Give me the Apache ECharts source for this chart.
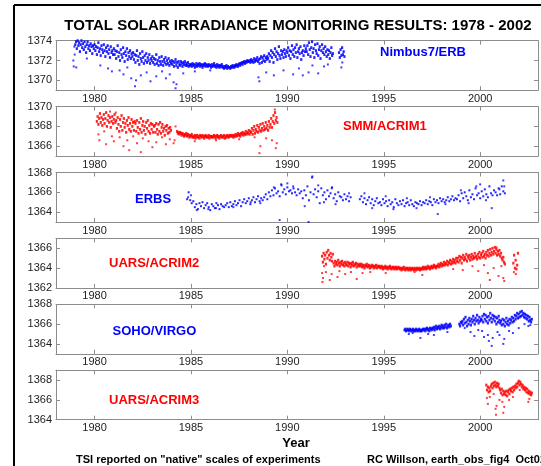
<!DOCTYPE html>
<html>
<head>
<meta charset="utf-8">
<script src="https://cdn.jsdelivr.net/npm/echarts@6/dist/echarts.min.js"></script>
<style>
html,body{margin:0;padding:0;background:#fff;}
#chart{width:541px;height:466px;}
</style>
</head>
<body>
<div id="chart"></div>
<script>
// ---------------- DATA ----------------
const xTicks = [1980, 1985, 1990, 1995, 2000];
const instrumentNames = ['Nimbus7/ERB', 'SMM/ACRIM1', 'ERBS', 'UARS/ACRIM2', 'SOHO/VIRGO', 'UARS/ACRIM3'];
const yRanges = [[1369, 1374], [1365, 1370], [1363, 1368], [1362, 1367], [1363, 1368], [1364, 1369]];
const yTickLabels = [[1370, 1372, 1374], [1366, 1368, 1370], [1364, 1366, 1368], [1362, 1364, 1366], [1364, 1366, 1368], [1364, 1366, 1368]];

// dense records: first year and sampling step (years), then values
const nimbusStart = 1979.0, nimbusStep = 0.04;
const nimbusValues = [
1373.6,1373.9,1373.2,1374.0,1373.5,1373.8,1372.9,1373.6,1374.0,1373.3,1373.7,1373.1,1373.9,1373.4,1372.8,1373.6,1373.9,1373.2,1373.5,1373.0,1373.7,1373.4,1372.7,1373.5,1373.2,
1373.6,1373.0,1373.4,1372.6,1373.3,1373.8,1372.9,1373.2,1372.5,1373.5,1373.1,1372.8,1373.6,1373.0,1372.4,1373.3,1372.9,1373.5,1372.7,1373.1,1372.3,1373.4,1372.8,1373.0,1372.6,
1373.2,1372.6,1373.0,1372.2,1372.9,1373.5,1372.4,1372.8,1372.0,1373.1,1372.6,1372.3,1373.3,1372.7,1371.9,1372.9,1372.5,1373.2,1372.1,1372.8,1372.4,1373.0,1372.2,1372.7,1372.4,
1372.8,1372.1,1372.6,1371.8,1372.5,1373.0,1372.0,1372.4,1371.6,1372.7,1372.2,1371.9,1372.9,1372.3,1371.7,1372.5,1372.0,1372.7,1371.8,1372.3,1372.0,1372.6,1371.7,1372.2,1372.0,
1372.4,1371.8,1372.2,1371.6,1372.1,1372.6,1371.7,1372.0,1371.5,1372.3,1371.9,1371.6,1372.4,1371.9,1371.5,1372.1,1371.8,1372.3,1371.6,1372.0,1371.7,1372.2,1371.5,1371.9,1371.7,
1372.0,1371.6,1371.9,1371.4,1371.8,1372.1,1371.5,1371.8,1371.3,1371.9,1371.6,1371.5,1371.9,1371.7,1371.4,1371.8,1371.6,1371.9,1371.5,1371.7,1371.5,1371.8,1371.4,1371.6,1371.5,
1371.6,1371.4,1371.7,1371.5,1371.6,1371.3,1371.5,1371.7,1371.4,1371.6,1371.5,1371.7,1371.4,1371.6,1371.5,1371.3,1371.6,1371.5,1371.7,1371.4,1371.6,1371.5,1371.4,1371.6,1371.5,
1371.5,1371.3,1371.6,1371.4,1371.5,1371.7,1371.4,1371.5,1371.3,1371.6,1371.4,1371.5,1371.3,1371.5,1371.4,1371.6,1371.3,1371.4,1371.2,1371.4,1371.3,1371.5,1371.2,1371.4,1371.3,
1371.3,1371.2,1371.4,1371.3,1371.5,1371.4,1371.3,1371.5,1371.4,1371.6,1371.5,1371.4,1371.6,1371.7,1371.5,1371.7,1371.8,1371.6,1371.8,1371.9,1371.7,1371.9,1371.8,1372.0,1371.9,
1371.9,1372.0,1371.8,1372.1,1371.9,1372.0,1371.8,1372.2,1371.9,1372.1,1372.0,1372.3,1371.9,1372.1,1371.7,1372.2,1372.4,1371.8,1372.3,1372.0,1372.5,1371.9,1372.3,1372.1,1372.4,
1372.2,1372.7,1371.9,1372.5,1373.0,1372.3,1372.8,1371.8,1372.6,1373.2,1372.4,1372.9,1372.1,1372.7,1373.4,1372.5,1372.2,1373.0,1372.6,1372.9,1372.3,1373.1,1372.7,1372.4,1373.0,
1372.8,1373.3,1372.5,1373.0,1372.2,1372.9,1373.5,1372.6,1373.1,1372.4,1373.3,1372.8,1373.6,1372.3,1372.9,1373.2,1372.7,1373.4,1372.1,1372.8,1373.0,1372.5,1373.5,1372.9,1373.2,
1372.9,1373.5,1372.6,1373.8,1373.1,1372.4,1373.3,1373.9,1372.8,1373.2,1372.3,1373.6,1373.0,1372.7,1373.7,1372.5,1373.1,1373.4,1372.2,1373.0,1373.6,1372.8,1373.2,1372.6,1373.4,
1372.9,1372.4,1373.1,1372.6,1373.0,1372.2,1372.8,1373.3,1372.5,1372.7,null,null,null,null,null,null,null,1372.8,1372.3,1373.1,1372.5,1373.3,1372.6,1372.9,1372.4
];
const nimbusScatter = [
[1978.9,1372.0],[1978.92,1371.4],[1978.95,1373.4],[1978.97,1372.6],[1979.05,1371.3],[1979.6,1372.2],[1980.3,1371.5],[1980.7,1371.2],
[1980.9,1370.9],[1981.3,1371.0],[1981.5,1370.6],[1981.7,1371.3],[1981.9,1370.2],[1982.1,1369.4],[1982.15,1370.0],[1982.4,1370.5],
[1982.7,1370.8],[1982.9,1369.9],[1983.2,1370.4],[1983.5,1370.9],[1983.7,1370.2],[1983.9,1370.6],[1984.1,1369.8],[1984.2,1369.2],
[1984.25,1369.6],[1984.6,1370.7],[1985.2,1370.9],[1986.0,1371.0],[1988.5,1370.3],[1988.55,1369.9],[1988.9,1370.8],[1989.3,1370.5],
[1989.8,1371.0],[1990.3,1370.6],[1990.6,1371.2],[1990.8,1370.5],[1991.1,1370.8],[1991.3,1371.5],[1991.6,1370.7],[1991.9,1371.4],
[1992.1,1371.6],[1992.8,1371.3],[1992.85,1371.8]
];

const acrim1Start = 1980.12, acrim1Step = 0.04;
const acrim1Values = [
1368.5,1369.0,1368.2,1368.8,1369.3,1368.4,1368.9,1368.1,1368.7,1369.2,1368.3,1368.8,1369.4,1368.0,1368.6,1369.1,1368.4,1368.9,1367.9,1368.5,1369.0,1368.3,1368.7,1369.2,1368.4,
1368.6,1367.8,1368.9,1368.2,1367.5,1368.7,1368.0,1369.1,1367.6,1368.4,1368.8,1367.9,1368.3,1367.4,1368.6,1368.1,1368.9,1367.7,1368.3,1367.5,1368.7,1368.0,1368.4,1367.6,1368.5,
1368.3,1367.5,1368.6,1367.9,1367.3,1368.4,1367.7,1368.8,1367.4,1368.1,1368.5,1367.6,1368.0,1367.2,1368.4,1367.8,1368.6,1367.5,1368.1,1367.3,1368.3,1367.7,1368.2,1367.4,1368.0,
1368.1,1367.4,1368.3,1367.7,1367.2,1368.2,1367.5,1368.4,1367.3,1367.9,1368.2,1367.5,1367.8,1367.1,1368.0,1367.6,1368.1,1367.3,1367.8,1367.4,1367.9,1367.6,null,null,null,
null,null,null,null,1367.5,1367.3,1367.4,1367.2,1367.4,1367.3,1367.1,1367.3,1367.2,1367.0,1367.2,1367.1,1367.3,1367.0,1367.2,1367.1,1366.9,1367.1,1367.0,1367.2,1366.9,
1367.0,1366.9,1367.1,1366.8,1367.0,1367.1,1366.9,1367.0,1366.8,1367.1,1367.0,1366.9,1367.1,1367.0,1366.8,1367.0,1367.1,1366.9,1367.0,1366.9,1367.1,1366.8,1367.0,1367.0,1366.9,
1367.0,1366.9,1367.1,1367.0,1366.8,1367.0,1367.1,1366.9,1367.0,1366.8,1367.0,1367.1,1366.9,1367.0,1366.9,1367.1,1366.8,1367.0,1366.9,1367.1,1367.0,1366.9,1367.1,1367.0,1367.1,
1367.0,1367.1,1366.9,1367.1,1367.0,1367.2,1367.0,1367.1,1367.3,1367.1,1367.2,1367.0,1367.3,1367.2,1367.4,1367.1,1367.3,1367.2,1367.5,1367.2,1367.4,1367.3,1367.6,1367.2,1367.5,
1367.4,1367.8,1367.2,1367.6,1368.0,1367.3,1367.7,1367.5,1368.1,1367.4,1367.9,1367.6,1368.2,1367.5,1367.8,1368.3,1367.6,1368.0,1367.7,1368.4,1367.8,1368.1,1367.6,1368.5,1367.9,
1368.2,1368.8,1367.9,1368.5,1369.1,1368.3,1369.4,1368.6,1368.9,1368.4
];
const acrim1Scatter = [
[1980.2,1367.2],[1980.25,1366.6],[1980.5,1367.5],[1980.6,1366.2],[1980.9,1367.0],[1981.0,1366.5],[1981.3,1366.9],[1981.5,1366.0],
[1981.7,1366.6],[1981.8,1365.6],[1982.0,1367.0],[1982.2,1366.3],[1982.4,1365.4],[1982.5,1366.8],[1982.8,1366.5],[1983.0,1365.9],
[1983.2,1366.4],[1983.5,1366.9],[1983.7,1366.2],[1983.9,1366.7],[1984.1,1366.3],[1984.15,1366.6],[1984.2,1368.0],[1985.2,1366.5],
[1986.3,1366.6],[1987.5,1366.7],[1988.3,1366.9],[1988.55,1365.3],[1988.6,1366.0],[1988.9,1366.8],[1989.2,1366.6],[1989.4,1365.8],
[1989.45,1366.3],[1989.35,1369.7],[1980.8,1369.5],[1981.1,1369.4]
];

const erbsStart = 1984.8, erbsStep = 0.08;
const erbsValues = [
1365.3,1366.0,1365.2,1364.9,1365.1,1364.5,1364.8,1364.3,1364.9,1364.6,1365.0,1364.4,1364.7,1364.9,1364.5,1364.2,1364.8,1364.6,1364.4,1364.9,1364.7,1364.3,1364.8,1364.6,1364.5,
1364.7,1364.9,1364.5,1365.0,1364.6,1364.8,1365.1,1364.7,1364.9,1365.2,1364.6,1365.0,1365.3,1364.9,1365.1,1365.4,1364.8,1365.2,1365.5,1365.0,1365.3,1365.6,1365.1,1365.4,1365.2,
1365.5,1365.8,1365.3,1366.0,1365.6,1366.2,1365.7,1366.4,1365.9,1366.1,1365.6,1366.8,1366.0,1366.3,1365.8,1366.5,1366.1,1366.2,1365.9,1366.4,1366.0,1365.7,1366.3,1365.9,1366.1,
1365.4,1366.2,1365.7,1366.6,1365.2,1366.0,1367.5,1365.8,1366.3,1365.5,1366.1,1364.9,1366.4,1365.7,1366.0,1365.3,1366.2,1365.6,1365.9,1366.5,1365.4,1365.8,1365.1,1366.0,1365.6,
1365.5,1365.2,1365.8,1365.3,1365.6,1365.1,1365.5,null,null,null,null,null,1365.3,1365.6,1365.0,1365.4,1364.8,1365.2,1365.5,1364.9,1365.3,1364.7,1365.1,1365.4,1364.9,
1365.0,1364.7,1365.3,1364.9,1365.1,1364.6,1365.2,1364.8,1365.0,1364.5,1365.3,1364.9,1364.7,1365.1,1364.8,1365.2,1364.6,1364.9,1365.0,1364.7,1365.2,1364.8,1364.6,1365.0,1364.9,
1364.8,1365.1,1364.7,1365.0,1364.9,1365.2,1364.8,1365.1,1365.0,1364.7,1365.3,1365.0,1365.2,1364.9,1365.4,1365.1,1365.3,1365.0,1365.2,1365.5,1365.1,1365.3,1365.6,1365.2,1365.4,
1365.3,1365.7,1365.1,1365.9,1365.4,1366.0,1365.6,1365.2,1366.2,1365.5,1365.8,1365.3,1366.4,1365.7,1365.9,1365.4,1366.1,1365.6,1366.3,1365.8,1365.5,1366.6,1365.9,1365.7,1366.2,
1366.0,1365.7,1366.4,1365.8,1366.6,1366.1,1365.9
];
const erbsScatter = [
[1984.85,1365.5],[1985.0,1365.7],[1985.3,1364.2],[1985.9,1364.3],[1986.3,1364.4],[1987.2,1364.5],[1988.1,1365.0],[1988.6,1364.9],
[1989.3,1366.5],[1989.6,1363.2],[1989.7,1366.7],[1990.0,1366.9],[1990.3,1366.6],[1990.9,1364.6],[1991.1,1363.0],[1991.3,1367.6],
[1991.6,1366.7],[1991.9,1365.0],[1992.3,1366.4],[1992.5,1364.8],[1993.2,1365.9],[1994.0,1365.9],[1994.4,1364.4],[1995.1,1365.6],
[1995.5,1364.3],[1996.2,1365.4],[1996.7,1364.4],[1997.4,1365.5],[1997.8,1363.8],[1998.2,1364.8],[1999.0,1366.2],[1999.4,1364.9],
[1999.8,1366.6],[2000.0,1366.8],[2000.3,1365.2],[2000.6,1364.4],[2001.0,1366.3],[2001.2,1367.2],[2001.25,1366.6]
];

const acrim2Start = 1991.8, acrim2Step = 0.04;
const acrim2Values = [
1365.2,1364.6,1365.5,1364.9,1365.3,1364.4,1365.6,1365.0,1365.8,1365.3,1364.8,1365.5,1365.1,1364.7,1365.4,1364.5,1364.2,1364.7,1364.4,1364.6,1364.3,1364.8,1364.5,1364.2,1364.6,
1364.4,1364.7,1364.3,1364.5,1364.2,1364.6,1364.4,1364.3,1364.6,1364.2,1364.5,1364.4,1364.1,1364.5,1364.3,1364.6,1364.2,1364.4,1364.3,1364.5,1364.1,1364.4,1364.3,1364.2,1364.4,
1364.2,1364.4,1364.1,1364.3,1364.2,1364.0,1364.3,1364.2,1364.4,1364.1,1364.2,1364.3,1364.0,1364.2,1364.1,1364.3,1364.2,1364.0,1364.2,1364.1,1364.3,1364.0,1364.2,1364.1,1364.2,
1364.1,1364.0,1364.2,1364.1,1363.9,1364.1,1364.0,1364.2,1364.0,1364.1,1363.9,1364.1,1364.0,1364.2,1364.0,1363.9,1364.1,1364.0,1364.1,1363.9,1364.0,1364.1,1363.9,1364.0,1364.1,
1364.0,1363.9,1364.0,1363.8,1364.0,1363.9,1364.1,1363.9,1363.8,1364.0,1363.9,1364.0,1363.8,1363.9,1364.0,1363.8,1363.9,1364.0,1363.9,1363.8,1364.0,1363.9,1363.8,1364.0,1363.9,
1363.9,1364.0,1363.8,1363.9,1364.0,1363.9,1364.1,1363.9,1364.0,1364.1,1363.9,1364.0,1364.2,1364.0,1364.1,1363.9,1364.1,1364.2,1364.0,1364.1,1364.3,1364.1,1364.2,1364.0,1364.2,
1364.2,1364.4,1364.1,1364.3,1364.5,1364.2,1364.4,1364.3,1364.6,1364.3,1364.5,1364.4,1364.7,1364.3,1364.6,1364.5,1364.8,1364.4,1364.7,1364.5,1364.9,1364.6,1364.8,1364.5,1365.0,
1364.7,1365.0,1364.6,1365.2,1364.8,1365.1,1364.5,1365.0,1365.3,1364.8,1365.1,1364.9,1365.4,1364.7,1365.2,1365.0,1365.3,1364.8,1365.1,1365.4,1364.9,1365.2,1365.0,1365.5,1365.1,
1365.2,1364.9,1365.4,1365.1,1365.6,1365.0,1365.3,1365.5,1365.1,1365.7,1365.2,1365.4,1365.0,1365.6,1365.3,1365.8,1365.2,1365.5,1365.9,1365.3,1365.6,1366.0,1365.4,1365.7,1366.1,
1365.5,1365.9,1365.3,1365.7,1365.4,1365.8,1365.2,1365.5,1365.0,1364.8,1365.1,1364.6,1364.4,null,null,null,null,null,null,null,null,null,null,1364.5,1365.3,
1364.0,1364.8,1363.9,1364.3,1365.5
];
const acrim2Scatter = [
[1991.8,1363.5],[1991.82,1362.6],[1991.85,1363.0],[1991.9,1364.2],[1992.0,1363.6],[1992.2,1362.8],[1992.3,1363.4],[1992.6,1363.1],
[1992.7,1363.7],[1993.0,1363.4],[1993.3,1363.6],[1993.6,1362.9],[1993.9,1363.5],[1994.3,1363.6],[1995.1,1363.5],[1996.6,1363.6],
[1997.0,1363.3],[1998.6,1363.9],[1999.1,1363.8],[1999.6,1364.2],[1999.9,1363.7],[2000.2,1364.3],[2000.4,1363.5],[2000.5,1362.8],
[2000.7,1364.0],[2000.95,1363.2],[2001.1,1364.2],[2001.2,1363.0],[2001.25,1362.7],[2001.75,1363.6],[2001.85,1363.4],[2000.85,1366.1]
];

const virgoStart = 1996.08, virgoStep = 0.04;
const virgoValues = [
1365.4,1365.5,1365.3,1365.4,1365.5,1365.4,1365.3,1365.5,1365.4,1365.3,1365.4,1365.5,1365.3,1365.4,1365.3,1365.5,1365.4,1365.3,1365.4,1365.5,1365.3,1365.4,1365.3,1365.4,1365.5,
1365.4,1365.5,1365.3,1365.5,1365.6,1365.4,1365.5,1365.3,1365.6,1365.5,1365.4,1365.6,1365.5,1365.7,1365.4,1365.6,1365.8,1365.5,1365.7,1365.6,1365.8,1365.5,1365.7,1365.9,1365.6,
1365.8,1365.6,1365.9,1365.7,1366.0,1365.6,1365.8,1365.9,1365.7,1366.0,1365.8,null,null,null,null,null,null,null,null,null,null,1366.0,1365.8,1366.2,1366.1,
1366.3,1365.9,1366.5,1366.1,1366.7,1366.2,1365.8,1366.4,1366.0,1366.6,1366.3,1365.9,1366.5,1366.2,1366.8,1366.4,1366.0,1366.6,1366.3,1366.9,1366.4,1366.1,1366.7,1366.3,1366.5,
1366.4,1366.8,1366.2,1367.0,1366.5,1366.9,1366.3,1366.7,1366.1,1366.8,1366.4,1367.1,1366.6,1366.2,1366.9,1366.5,1366.8,1366.3,1366.7,1366.0,1366.6,1366.2,1366.8,1366.4,1366.1,
1366.3,1365.9,1366.5,1366.0,1366.4,1365.8,1366.2,1366.6,1366.0,1366.3,1365.9,1366.5,1366.1,1366.4,1366.7,1366.2,1366.6,1366.3,1366.9,1366.5,1366.8,1367.1,1366.6,1367.0,1366.7,
1367.2,1366.8,1367.3,1366.9,1367.1,1366.7,1367.0,1366.6,1366.9,1366.5,1366.8,1366.3,1366.7,1366.4,1366.2,1366.5
];
const virgoScatter = [
[1996.3,1365.0],[1996.5,1365.1],[1996.9,1364.6],[1997.3,1365.0],[1997.6,1364.9],[1998.3,1365.2],[1999.2,1365.6],[1999.5,1365.2],
[1999.7,1364.8],[1999.9,1365.4],[2000.1,1365.3],[2000.2,1364.7],[2000.4,1364.9],[2000.45,1364.3],[2000.6,1363.8],[2000.65,1364.6],
[2000.9,1365.2],[2001.0,1364.9],[2001.2,1364.0],[2001.25,1364.5],[2001.5,1365.3],[2001.7,1365.1],[2002.0,1365.6],[2002.3,1366.0],
[2002.5,1365.8],[2002.6,1365.9]
];

const acrim3Start = 2000.32, acrim3Step = 0.04;
const acrim3Values = [
1367.5,1367.0,1367.3,1366.8,1367.2,1366.9,1367.4,1367.6,1367.2,1367.7,1367.4,1367.8,1367.5,1367.3,1367.7,1367.4,1367.6,1367.2,1367.0,1366.7,1367.1,1366.5,1366.9,1366.6,1366.8,
1366.5,1366.9,1366.4,1366.8,1367.0,1366.6,1367.1,1366.9,1367.2,1366.8,1367.3,1367.0,1367.4,1367.2,1367.6,1367.3,1367.7,1367.9,1367.5,1367.8,1367.6,1367.3,1367.5,1367.1,1367.3,
1367.0,1367.2,1366.8,1367.1,1366.7,1366.9,1366.6,1366.8,1366.5,1366.7
];
const acrim3Scatter = [
[2000.35,1366.2],[2000.4,1365.6],[2000.5,1366.3],[2000.7,1366.6],[2000.8,1365.1],[2000.82,1364.5],[2000.85,1365.4],[2001.0,1366.0],
[2001.15,1365.8],[2001.2,1364.7],[2001.25,1365.3],[2001.5,1366.0],[2001.7,1366.3],[2002.05,1367.0],[2002.5,1365.8],[2002.55,1366.1]
];

// ---------------- CHART ----------------
const FONT = '"Liberation Sans", Arial, Helvetica, sans-serif';
const BLUE = '#0000ff', RED = '#ff0000';
const AXIS_COLOR = '#8c8c8c';
const plain = v => String(v);

const records = [
  {start: nimbusStart, step: nimbusStep, values: nimbusValues, extra: nimbusScatter, color: BLUE},
  {start: acrim1Start, step: acrim1Step, values: acrim1Values, extra: acrim1Scatter, color: RED},
  {start: erbsStart, step: erbsStep, values: erbsValues, extra: erbsScatter, color: BLUE},
  {start: acrim2Start, step: acrim2Step, values: acrim2Values, extra: acrim2Scatter, color: RED},
  {start: virgoStart, step: virgoStep, values: virgoValues, extra: virgoScatter, color: BLUE},
  {start: acrim3Start, step: acrim3Step, values: acrim3Values, extra: acrim3Scatter, color: RED}
];

const labelPos = [[380, 54], [343, 128], [135, 200.5], [109, 265], [112.5, 333], [109, 402]];

const PANEL_TOP = 40.7, PANEL_GAP = 65.9, PANEL_H = 49.5;
const grids = [], xAxes = [], yAxes = [], series = [], graphics = [];

records.forEach((r, i) => {
  grids.push({left: 56, width: 482, top: PANEL_TOP + PANEL_GAP * i, height: PANEL_H});
  const tickStyle = {color: AXIS_COLOR, width: 1};
  xAxes.push({
    type: 'value', gridIndex: i, min: 1978, max: 2003, position: 'bottom',
    axisLine: {show: true, onZero: false, lineStyle: tickStyle},
    axisTick: {show: true, inside: true, length: 4, customValues: xTicks, lineStyle: tickStyle},
    axisLabel: {show: true, customValues: xTicks, formatter: plain, color: '#222', fontSize: 11, fontFamily: FONT, margin: 3},
    splitLine: {show: false}
  });
  xAxes.push({
    type: 'value', gridIndex: i, min: 1978, max: 2003, position: 'top',
    axisLine: {show: true, onZero: false, lineStyle: tickStyle},
    axisTick: {show: true, inside: true, length: 4, customValues: xTicks, lineStyle: tickStyle},
    axisLabel: {show: false},
    splitLine: {show: false}
  });
  yAxes.push({
    type: 'value', gridIndex: i, min: yRanges[i][0], max: yRanges[i][1], position: 'left',
    axisLine: {show: true, onZero: false, lineStyle: tickStyle},
    axisTick: {show: true, inside: true, length: 4, customValues: yTickLabels[i], lineStyle: tickStyle},
    axisLabel: {show: true, customValues: yTickLabels[i], formatter: plain, color: '#222', fontSize: 11, fontFamily: FONT, margin: 4},
    splitLine: {show: false}
  });
  yAxes.push({
    type: 'value', gridIndex: i, min: yRanges[i][0], max: yRanges[i][1], position: 'right',
    axisLine: {show: true, onZero: false, lineStyle: tickStyle},
    axisTick: {show: true, inside: true, length: 4, customValues: yTickLabels[i], lineStyle: tickStyle},
    axisLabel: {show: false},
    splitLine: {show: false}
  });
  const pts = [];
  r.values.forEach((v, k) => { if (v !== null) pts.push([r.start + k * r.step, v]); });
  series.push({
    type: 'scatter', xAxisIndex: 2 * i, yAxisIndex: 2 * i, data: pts,
    symbol: 'rect', symbolSize: i === 2 ? 2 : [2.2, 2.8], clip: true, silent: true,
    itemStyle: {color: r.color, opacity: 0.85}
  });
  series.push({
    type: 'scatter', xAxisIndex: 2 * i, yAxisIndex: 2 * i, data: r.extra,
    symbol: 'rect', symbolSize: 2, clip: true, silent: true,
    itemStyle: {color: r.color, opacity: 0.75}
  });
  graphics.push({
    type: 'text', left: labelPos[i][0], top: labelPos[i][1] - 8,
    style: {text: instrumentNames[i], fill: r.color, font: 'bold 13px ' + FONT}
  });
});

// outer frame
graphics.push({type: 'line', shape: {x1: 14, y1: 5, x2: 541, y2: 5}, style: {stroke: '#000', lineWidth: 2}});
graphics.push({type: 'line', shape: {x1: 14, y1: 5, x2: 14, y2: 466}, style: {stroke: '#000', lineWidth: 2}});
// title and notes
graphics.push({type: 'text', x: 298, y: 26, style: {text: 'TOTAL SOLAR IRRADIANCE MONITORING RESULTS: 1978 - 2002', fill: '#000', font: 'bold 15px ' + FONT, textAlign: 'center', textVerticalAlign: 'middle'}});
graphics.push({type: 'text', x: 296, y: 443, style: {text: 'Year', fill: '#000', font: 'bold 13px ' + FONT, textAlign: 'center', textVerticalAlign: 'middle'}});
graphics.push({type: 'text', x: 76, y: 459.5, style: {text: 'TSI reported on "native" scales of experiments', fill: '#000', font: 'bold 11px ' + FONT, textAlign: 'left', textVerticalAlign: 'middle'}});
graphics.push({type: 'text', x: 367, y: 459.5, style: {text: 'RC Willson, earth_obs_fig4  Oct02', fill: '#000', font: 'bold 11px ' + FONT, textAlign: 'left', textVerticalAlign: 'middle'}});

const chart = echarts.init(document.getElementById('chart'), null, {renderer: 'canvas'});
chart.setOption({
  animation: false,
  backgroundColor: '#ffffff',
  grid: grids,
  xAxis: xAxes,
  yAxis: yAxes,
  series: series,
  graphic: graphics
});
</script>
</body>
</html>
